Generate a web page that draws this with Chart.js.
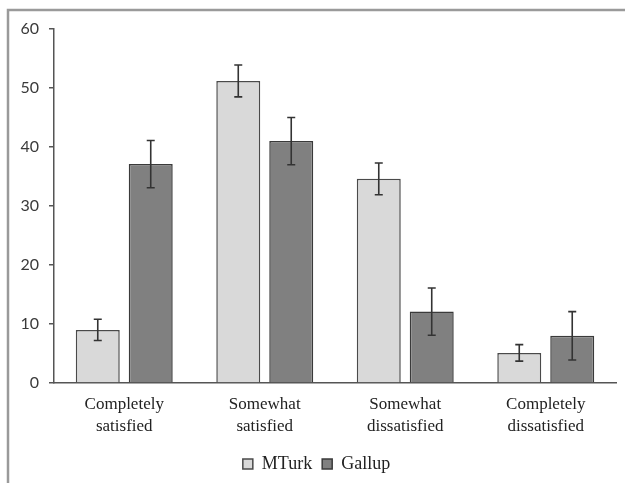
<!DOCTYPE html>
<html>
<head>
<meta charset="utf-8">
<script src="https://cdn.jsdelivr.net/npm/chart.js@4.4.1/dist/chart.umd.min.js"></script>
<style>
  html, body { margin: 0; padding: 0; background: #ffffff; }
  #wrap { position: relative; width: 625px; height: 483px; }
</style>
</head>
<body>
<div id="wrap"><canvas id="c" width="625" height="483"></canvas></div>
<script>
const categories = [["Completely", "satisfied"], ["Somewhat", "satisfied"], ["Somewhat", "dissatisfied"], ["Completely", "dissatisfied"]];
const mturkValues = [9.0, 51.2, 34.6, 5.1];
const mturkErrors = [1.8, 2.7, 2.7, 1.4];
const gallupValues = [37.1, 41.0, 12.1, 8.0];
const gallupErrors = [4.0, 4.0, 4.0, 4.1];
const yTicks = [0, 10, 20, 30, 40, 50, 60];

const errorBarPlugin = {
  id: 'errorBars',
  afterDatasetsDraw(chart) {
    const ctx = chart.ctx;
    const yScale = chart.scales.y;
    chart.data.datasets.forEach((ds, di) => {
      const meta = chart.getDatasetMeta(di);
      meta.data.forEach((el, i) => {
        const v = ds.data[i];
        const e = ds.errors[i];
        const yTop = yScale.getPixelForValue(v + e);
        const yBot = yScale.getPixelForValue(v - e);
        const x = el.x;
        ctx.save();
        ctx.strokeStyle = '#333333';
        ctx.lineWidth = 1.6;
        ctx.beginPath();
        ctx.moveTo(x, yTop); ctx.lineTo(x, yBot);
        ctx.moveTo(x - 4, yTop); ctx.lineTo(x + 4, yTop);
        ctx.moveTo(x - 4, yBot); ctx.lineTo(x + 4, yBot);
        ctx.stroke();
        ctx.restore();
      });
    });
  }
};

const framePlugin = {
  id: 'frame',
  beforeDraw(chart) {
    const ctx = chart.ctx;
    ctx.save();
    ctx.fillStyle = '#ffffff';
    ctx.fillRect(0, 0, chart.width, chart.height);
    ctx.strokeStyle = '#9a9a9a';
    ctx.lineWidth = 2.5;
    ctx.beginPath();
    ctx.moveTo(8, chart.height);
    ctx.lineTo(8, 10);
    ctx.lineTo(chart.width, 10);
    ctx.stroke();
    ctx.restore();
  }
};

new Chart(document.getElementById('c'), {
  type: 'bar',
  data: {
    labels: categories,
    datasets: [
      {
        label: 'MTurk',
        data: mturkValues,
        errors: mturkErrors,
        backgroundColor: '#d9d9d9',
        borderColor: '#4a4a4a',
        borderWidth: 1.5,
        borderSkipped: 'bottom'
      },
      {
        label: 'Gallup',
        data: gallupValues,
        errors: gallupErrors,
        backgroundColor: '#808080',
        borderColor: '#3a3a3a',
        borderWidth: 1.5,
        borderSkipped: 'bottom'
      }
    ]
  },
  options: {
    responsive: false,
    animation: false,
    devicePixelRatio: 1,
    datasets: { bar: { categoryPercentage: 0.754, barPercentage: 0.83 } },
    layout: { padding: { top: 29, right: 9, bottom: 0, left: 17 } },
    plugins: {
      legend: {
        position: 'bottom',
        labels: {
          boxWidth: 10,
          boxHeight: 10,
          padding: 10,
          color: '#222222',
          font: { family: '"Liberation Serif", "Times New Roman", serif', size: 18 }
        }
      },
      tooltip: { enabled: false }
    },
    scales: {
      x: {
        grid: { display: false, drawTicks: false },
        border: { display: true, color: '#555555', width: 1.5 },
        ticks: {
          padding: 10,
          color: '#222222',
          maxRotation: 0,
          font: { family: '"Liberation Serif", "Times New Roman", serif', size: 17, lineHeight: 1.3 }
        },
        afterFit(scale) { scale.height = 62; }
      },
      y: {
        min: 0,
        max: 60,
        afterBuildTicks(scale) { scale.ticks = yTicks.map(v => ({ value: v })); },
        grid: { display: true, drawOnChartArea: false, drawTicks: true, tickLength: 5, color: '#555555', lineWidth: 1.5 },
        border: { display: true, color: '#555555', width: 1.5 },
        ticks: {
          padding: 10,
          color: '#3a3a3a',
          font: { family: 'Lato, "Open Sans", sans-serif', size: 16 }
        },
        afterFit(scale) { scale.width = 37; }
      }
    }
  },
  plugins: [framePlugin, errorBarPlugin]
});
</script>
</body>
</html>
